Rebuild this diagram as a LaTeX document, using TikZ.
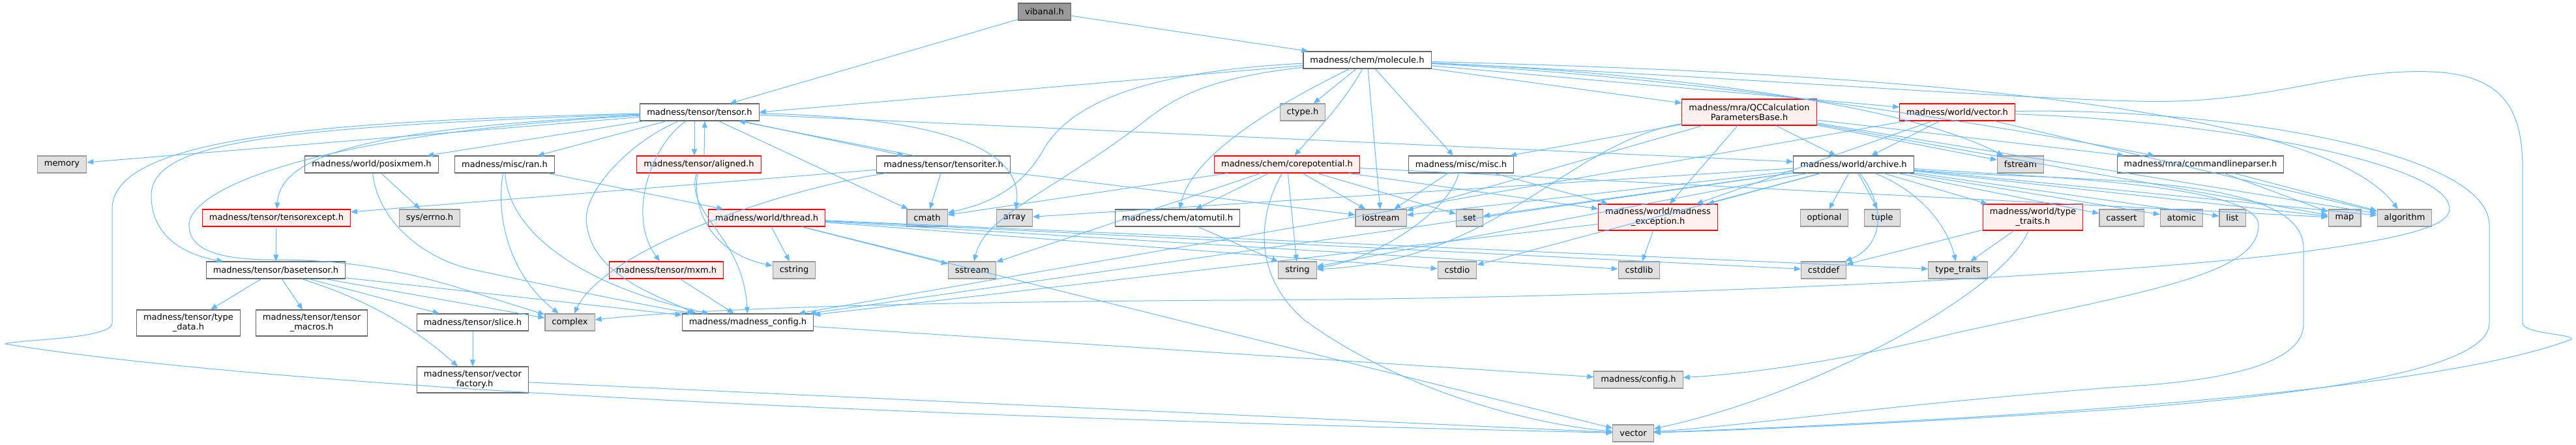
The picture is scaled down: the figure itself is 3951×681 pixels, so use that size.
\documentclass[tikz,border=0pt]{standalone}
\usepackage{fontspec}
\setmainfont{DejaVu Sans}
\usepackage{tikz}
\usetikzlibrary{arrows.meta, calc}

\definecolor{depblue}{HTML}{63B8FF}
\definecolor{sysgray}{HTML}{E0E0E0}
\definecolor{rootgray}{HTML}{999999}
\definecolor{truncpink}{HTML}{FFF0F0}

\begin{document}
\begin{tikzpicture}[x=1pt, y=-1pt, >={Triangle[length=10pt, width=8pt]},
    every node/.style={font=\fontsize{13}{15}\selectfont, inner xsep=10.5pt, inner ysep=0pt, minimum height=26pt, align=center, line width=1.1pt},
    hdr/.style={draw=black!60, fill=white},
    sys/.style={draw=black!40, fill=sysgray},
    trunc/.style={draw=red, fill=truncpink},
    root/.style={draw=black!60, fill=rootgray},
    dep/.style={->, draw=depblue, line width=1pt}]
    \useasboundingbox (0,0) rectangle (3951,681);

    % Headers
    \node[root] (vibanal) at (1602,18) {vibanal.h};
    \node[hdr] (molecule) at (2097,92) {madness/chem/molecule.h};
    \node[hdr] (tensor) at (1073,172) {madness/tensor/tensor.h};
    \node[sys] (ctype) at (1998,172) {ctype.h};
    \node[trunc, minimum height=40pt] (qccalc) at (2683,172) {madness/mra/QCCalculation\\ParametersBase.h};
    \node[trunc] (wvector) at (3002,172) {madness/world/vector.h};

    \node[sys] (memory) at (95,252) {memory};
    \node[hdr] (posixmem) at (570,252) {madness/world/posixmem.h};
    \node[hdr] (ran) at (774,252) {madness/misc/ran.h};
    \node[trunc] (aligned) at (1072,252) {madness/tensor/aligned.h};
    \node[hdr] (tensoriter) at (1447,252) {madness/tensor/tensoriter.h};
    \node[trunc] (corepot) at (1974,252) {madness/chem/corepotential.h};
    \node[hdr] (misc) at (2241,252) {madness/misc/misc.h};
    \node[hdr] (archive) at (2843,252) {madness/world/archive.h};
    \node[sys] (fstream) at (3099,252) {fstream};
    \node[hdr] (cmdline) at (3375,252) {madness/mra/commandlineparser.h};

    \node[trunc] (tensorexcept) at (424,334) {madness/tensor/tensorexcept.h};
    \node[sys] (errno) at (659,334) {sys/errno.h};
    \node[trunc] (thread) at (1176,334) {madness/world/thread.h};
    \node[sys] (cmath) at (1422,334) {cmath};
    \node[sys] (array) at (1556,334) {array};
    \node[hdr] (atomutil) at (1806,334) {madness/chem/atomutil.h};
    \node[sys] (iostream) at (2118,334) {iostream};
    \node[sys] (set) at (2254,334) {set};
    \node[trunc, minimum height=40pt] (madexcept) at (2543,333) {madness/world/madness\\\_exception.h};
    \node[sys] (optional) at (2798,334) {optional};
    \node[sys] (tuple) at (2887,334) {tuple};
    \node[trunc, minimum height=40pt] (wtypetraits) at (3118,333) {madness/world/type\\\_traits.h};
    \node[sys] (cassert) at (3254,334) {cassert};
    \node[sys] (atomic) at (3346,334) {atomic};
    \node[sys] (list) at (3424,334) {list};
    \node[sys] (map) at (3596,334) {map};
    \node[sys] (algorithm) at (3688,334) {algorithm};

    \node[hdr] (basetensor) at (423,414) {madness/tensor/basetensor.h};
    \node[trunc] (mxm) at (1022,414) {madness/tensor/mxm.h};
    \node[sys] (cstring) at (1218,414) {cstring};
    \node[sys] (sstream) at (1491,414) {sstream};
    \node[sys] (string) at (1990,414) {string};
    \node[sys] (cstdio) at (2235,414) {cstdio};
    \node[sys] (cstdlib) at (2514,414) {cstdlib};
    \node[sys] (cstddef) at (2797,414) {cstddef};
    \node[sys] (typetraits) at (3003,414) {type\_traits};

    \node[hdr, minimum height=40pt] (typedata) at (289,495) {madness/tensor/type\\\_data.h};
    \node[hdr, minimum height=40pt] (tensormacros) at (478,495) {madness/tensor/tensor\\\_macros.h};
    \node[hdr] (slice) at (725,494) {madness/tensor/slice.h};
    \node[sys] (complex) at (874,494) {complex};
    \node[hdr] (madconfig) at (1147,494) {madness/madness\_config.h};
    \node[hdr, minimum height=40pt] (vectorfactory) at (725,582) {madness/tensor/vector\\\_factory.h};
    \node[sys] (config) at (2513,582) {madness/config.h};
    \node[sys] (vector) at (2505,664) {vector};

    % vibanal.h
    \draw[dep] (vibanal) -- (tensor);
    \draw[dep] (vibanal) -- (molecule);

    % molecule.h
    \draw[dep] (molecule) -- (tensor.east);
    \draw[dep] (molecule) -- (ctype);
    \draw[dep] (molecule) .. controls (2060,160) and (2010,210) .. (corepot);
    \draw[dep] (molecule) -- (iostream);
    \draw[dep] (molecule) -- (misc);
    \draw[dep] (molecule) -- (qccalc);
    \draw[dep] (molecule) -- (wvector);
    \draw[dep] (molecule) .. controls (1750,110) and (1640,160) .. (1600,230) .. controls (1560,300) and (1500,315) .. (cmath);
    \draw[dep] (molecule) .. controls (1850,120) and (1800,150) .. (1750,190) .. controls (1620,290) and (1510,330) .. (sstream);
    \draw[dep] (molecule) .. controls (1980,150) and (1830,230) .. (atomutil);
    \draw[dep] (molecule) .. controls (2500,110) and (2900,150) .. (fstream);
    \draw[dep] (molecule) .. controls (2600,120) and (3000,180) .. (cmdline);
    \draw[dep] (molecule) .. controls (2800,110) and (3550,150) .. (algorithm);
    \draw[dep] (molecule) .. controls (2700,120) and (3200,160) .. (3340,155) .. controls (3500,150) and (3600,105) .. (3730,110) .. controls (3850,115) and (3869,180) .. (3869,260) -- (3869,495) .. controls (3869,512) and (3950,512) .. (3944,520) .. controls (3800,575) and (3400,630) .. (vector);

    % tensor.h
    \draw[dep] (tensor) -- (memory);
    \draw[dep] (tensor) -- (posixmem);
    \draw[dep] (tensor) -- (ran);
    \draw[dep] ([xshift=-8pt]tensor.south) -- ([xshift=-7pt]aligned.north);
    \draw[dep] ([xshift=8pt]aligned.north) -- ([xshift=8pt]tensor.south);
    \draw[dep] (tensor) -- ([xshift=-60pt]tensoriter.north);
    \draw[dep] ([xshift=-45pt]tensoriter.north) -- ([xshift=60pt]tensor.south);
    \draw[dep] (tensor) .. controls (600,195) and (430,230) .. (tensorexcept);
    \draw[dep] (tensor) .. controls (400,195) and (232,220) .. (232,300) .. controls (232,360) and (280,390) .. (basetensor);
    \draw[dep] (tensor) .. controls (480,205) and (290,290) .. (290,345) .. controls (290,385) and (340,398) .. (420,398) .. controls (520,398) and (600,410) .. (700,440) -- (complex);
    \draw[dep] (tensor) .. controls (960,220) and (890,300) .. (900,345) .. controls (910,420) and (1000,450) .. ([xshift=-80pt]madconfig.north);
    \draw[dep] (tensor) .. controls (1000,220) and (960,330) .. (mxm);
    \draw[dep] (tensor) -- (cmath);
    \draw[dep] (tensor) .. controls (1450,180) and (1570,230) .. (array);
    \draw[dep] (tensor) -- (archive);
    \draw[dep] (tensor) .. controls (500,185) and (172,210) .. (172,320) -- (172,495) .. controls (172,520) and (30,520) .. (8,527) .. controls (300,575) and (1000,630) .. (vector);

    % aligned.h, tensoriter.h, posixmem.h, ran.h
    \draw[dep] (aligned) .. controls (1050,330) and (1140,360) .. (madconfig);
    \draw[dep] (aligned) .. controls (1060,330) and (1100,390) .. (cstring);
    \draw[dep] (tensoriter) -- (tensorexcept);
    \draw[dep] (tensoriter) -- (cmath);
    \draw[dep] (tensoriter) .. controls (1200,290) and (930,380) .. (complex);
    \draw[dep] (tensoriter) -- (iostream);
    \draw[dep] (posixmem) -- (errno);
    \draw[dep] (posixmem) .. controls (580,340) and (650,395) .. (720,412) .. controls (850,440) and (1000,470) .. (madconfig);
    \draw[dep] (ran) .. controls (760,330) and (780,420) .. (complex);
    \draw[dep] (ran) .. controls (780,360) and (900,440) .. ([xshift=-60pt]madconfig.north);
    \draw[dep] (ran) -- (thread);

    % basetensor.h
    \draw[dep] (tensorexcept) -- (basetensor);
    \draw[dep] (basetensor) -- (typedata);
    \draw[dep] (basetensor) -- (tensormacros);
    \draw[dep] (basetensor) -- (slice);
    \draw[dep] (basetensor) .. controls (500,440) and (600,470) .. (vectorfactory);
    \draw[dep] (basetensor) -- (complex);
    \draw[dep] (basetensor) -- (madconfig);
    \draw[dep] (slice) -- (vectorfactory);
    \draw[dep] (vectorfactory) -- (vector);
    \draw[dep] (mxm) -- (madconfig);

    % thread.h
    \draw[dep] (thread) -- (cstring);
    \draw[dep] (thread) -- (sstream);
    \draw[dep] (thread) -- (cstdio);
    \draw[dep] (thread) -- (cstdlib);
    \draw[dep] (thread) -- (cstddef);
    \draw[dep] (thread) -- (typetraits);
    \draw[dep] (thread) -- (vector);

    % corepotential.h, atomutil.h, misc.h
    \draw[dep] (corepot) -- (cmath);
    \draw[dep] (corepot) -- (atomutil);
    \draw[dep] (corepot) -- (iostream);
    \draw[dep] (corepot) -- (set);
    \draw[dep] (corepot) -- (string);
    \draw[dep] (corepot) -- (sstream);
    \draw[dep] (corepot) -- (map);
    \draw[dep] (corepot) -- (madexcept);
    \draw[dep] (corepot) .. controls (1930,330) and (1920,420) .. (2000,490) .. controls (2150,600) and (2350,650) .. (vector);
    \draw[dep] (atomutil) -- (string);
    \draw[dep] (misc) -- (iostream);
    \draw[dep] (misc) .. controls (2220,330) and (2100,400) .. (string);
    \draw[dep] (misc) -- (madexcept);

    % QCCalculationParametersBase.h, vector.h
    \draw[dep] (qccalc) -- (misc);
    \draw[dep] (qccalc) -- (archive);
    \draw[dep] (qccalc) -- (fstream);
    \draw[dep] (qccalc) -- (cmdline);
    \draw[dep] (qccalc) -- (madexcept);
    \draw[dep] (qccalc) -- (iostream);
    \draw[dep] (qccalc) .. controls (2400,220) and (2300,400) .. (string);
    \draw[dep] (qccalc) -- (map);
    \draw[dep] (qccalc) -- (algorithm);
    \draw[dep] (wvector) -- (archive);
    \draw[dep] (wvector) -- (madexcept);
    \draw[dep] (wvector) -- (madconfig);
    \draw[dep] (wvector) -- (algorithm);
    \draw[dep] (wvector) .. controls (3400,165) and (3818,230) .. (3818,345) -- (3818,495) .. controls (3818,560) and (3600,600) .. (3250,627) .. controls (2900,650) and (2700,658) .. (vector);
    \draw[dep] (wvector) .. controls (3400,185) and (3757,250) .. (3757,320) .. controls (3757,345) and (3700,365) .. (3500,390) .. controls (3200,425) and (2500,458) .. (1900,460) .. controls (1500,462) and (1100,470) .. (complex);

    % archive.h
    \draw[dep] (archive) -- (madexcept);
    \draw[dep] (archive) -- (optional);
    \draw[dep] (archive) -- (tuple);
    \draw[dep] (archive) -- (wtypetraits);
    \draw[dep] (archive) -- (cassert);
    \draw[dep] (archive) -- (atomic);
    \draw[dep] (archive) -- (list);
    \draw[dep] (archive) -- (map);
    \draw[dep] (archive) -- (algorithm);
    \draw[dep] (archive) .. controls (2900,330) and (2880,380) .. (cstddef);
    \draw[dep] (archive) .. controls (2960,300) and (2990,360) .. (typetraits);
    \draw[dep] (archive) -- (array);
    \draw[dep] (archive) -- (string);
    \draw[dep] (archive) -- (cstdio);
    \draw[dep] (archive) -- (iostream);
    \draw[dep] (archive) -- (set);
    \draw[dep] (archive) -- (madconfig);
    \draw[dep] (archive) .. controls (3100,270) and (3464,280) .. (3464,345) .. controls (3464,420) and (3300,445) .. (3000,510) .. controls (2800,560) and (2650,575) .. (config);
    \draw[dep] (archive) .. controls (3150,280) and (3533,260) .. (3533,380) -- (3533,497) .. controls (3533,560) and (3400,585) .. (3250,593) .. controls (2900,620) and (2700,650) .. (vector);

    % madness_exception.h, type_traits.h, commandlineparser.h
    \draw[dep] (madexcept) -- (cstdlib);
    \draw[dep] (madexcept) -- (madconfig);
    \draw[dep] (wtypetraits) -- (cstddef);
    \draw[dep] (wtypetraits) -- (typetraits);
    \draw[dep] (wtypetraits) .. controls (3080,440) and (2800,600) .. (vector);
    \draw[dep] (cmdline) -- (map);
    \draw[dep] (cmdline) -- (algorithm);
    \draw[dep] (madconfig) -- (config);
\end{tikzpicture}
\end{document}
